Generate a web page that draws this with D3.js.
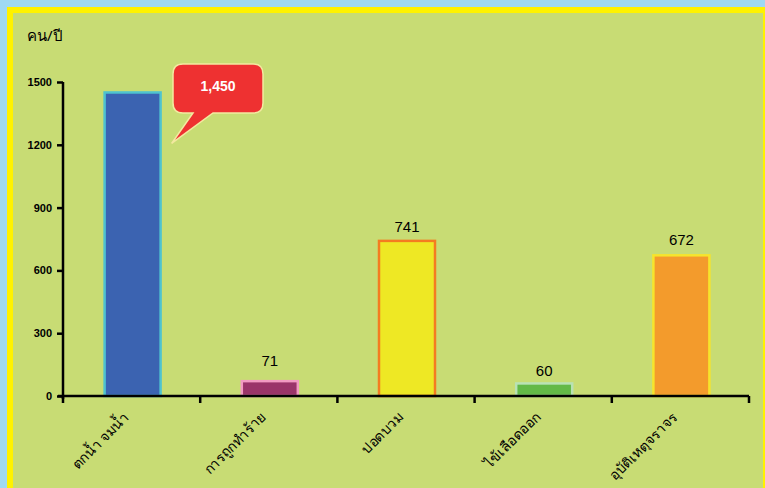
<!DOCTYPE html>
<html><head><meta charset="utf-8">
<script src="https://cdn.jsdelivr.net/npm/d3@7"></script>
<style>body{margin:0;background:#9fd9f3;}svg{display:block;}</style>
</head><body>
<script>
const categories = ["ตกน้ำ จมน้ำ","การถูกทำร้าย","ปอดบวม","ไข้เลือดออก","อุบัติเหตุจราจร"];
const values = [1450, 71, 741, 60, 672];
const valueLabels = ["1,450","71","741","60","672"];
const fills = ["#3b63b1","#9a3469","#eee824","#63b947","#f39b2c"];
const strokes = ["#4fc3cf","#f29ac2","#f47c20","#b9e2b4","#f6e42c"];
const yTicks = [0,300,600,900,1200,1500];

const W=765,H=488;
const svg=d3.select("body").append("svg").attr("width",W).attr("height",H);
svg.append("rect").attr("width",W).attr("height",H).attr("fill","#9fd9f3");
svg.append("rect").attr("x",7).attr("y",7).attr("width",W-7).attr("height",H-7).attr("fill","#fff200");
svg.append("rect").attr("x",13).attr("y",13).attr("width",W-15).attr("height",H-13).attr("fill","#c8dc74");

const x=d3.scaleBand().domain(categories).range([63,749]).paddingInner(0).paddingOuter(0);
const y=d3.scaleLinear().domain([0,1500]).range([396,82]);

const bw=56;
svg.selectAll(".bar").data(values).join("rect")
  .attr("x",(d,i)=>x(categories[i])+x.bandwidth()/2-bw/2+1)
  .attr("y",d=>y(d))
  .attr("width",bw).attr("height",d=>y(0)-y(d))
  .attr("fill",(d,i)=>fills[i]).attr("stroke",(d,i)=>strokes[i]).attr("stroke-width",2.5);

// y axis
const ya=svg.append("g").attr("transform","translate(63,0)")
  .call(d3.axisLeft(y).tickValues(yTicks).tickSize(6).tickPadding(5).tickFormat(d3.format("d")));
ya.select(".domain").attr("stroke","#000").attr("stroke-width",2.5).attr("d","M0,82V399");
ya.selectAll(".tick line").attr("stroke","#000").attr("stroke-width",2.5);
ya.selectAll(".tick text").attr("font-family","Liberation Sans, Arial").attr("font-size",11).attr("font-weight","bold").attr("fill","#000");

// x axis
const xa=svg.append("g").attr("transform","translate(0,396)")
  .call(d3.axisBottom(x).tickSize(0).tickFormat(""));
xa.select(".domain").attr("stroke","#000").attr("stroke-width",2.5).attr("d","M58,0H749");
const bounds=[63].concat(categories.map(c=>x(c)+x.bandwidth()));
svg.selectAll(".xt").data(bounds).join("line")
  .attr("x1",d=>d).attr("x2",d=>d).attr("y1",396).attr("y2",403)
  .attr("stroke","#000").attr("stroke-width",2.5);

svg.selectAll(".xl").data(categories).join("text")
  .attr("transform",d=>`translate(${x(d)+x.bandwidth()/2-2},${418}) rotate(-45)`)
  .attr("text-anchor","end").attr("font-family","Noto Sans, sans-serif").attr("font-size",14)
  .attr("fill","#000").text(d=>d);

// value labels
const labelGap=[0,15,9,7,10];
svg.selectAll(".vl").data(values).join("text")
  .filter((d,i)=>i>0)
  .attr("x",(d,i)=>x(categories[i+1])+x.bandwidth()/2+1)
  .attr("y",(d,i)=>y(d)-labelGap[i+1])
  .attr("text-anchor","middle").attr("font-family","Liberation Sans, Arial").attr("font-size",15)
  .attr("fill","#000").text((d,i)=>valueLabels[i+1]);

// callout
const cx0=x(categories[0])+x.bandwidth()/2+1+bw/2+11;
const cy=y(values[0]);
const bx=173,by=64,bwid=90,bh=49,r=10;
const path=`M${bx+r},${by}H${bx+bwid-r}Q${bx+bwid},${by} ${bx+bwid},${by+r}V${by+bh-r}Q${bx+bwid},${by+bh} ${bx+bwid-r},${by+bh}H${bx+40}L${cx0},${cy+51}L${bx+20},${by+bh}H${bx+r}Q${bx},${by+bh} ${bx},${by+bh-r}V${by+r}Q${bx},${by} ${bx+r},${by}Z`;
svg.append("path").attr("d",path).attr("fill","#ee3131").attr("stroke","#f3e9a0").attr("stroke-width",1.5);
svg.append("text").attr("x",bx+bwid/2).attr("y",by+27).attr("text-anchor","middle")
  .attr("font-family","Liberation Sans, Arial").attr("font-weight","bold").attr("font-size",14)
  .attr("fill","#fff").text(valueLabels[0]);

svg.append("text").attr("x",27).attr("y",41).attr("font-family","Noto Sans, sans-serif")
  .attr("font-size",15).attr("fill","#000").text("คน/ปี");
</script>
</body></html>
